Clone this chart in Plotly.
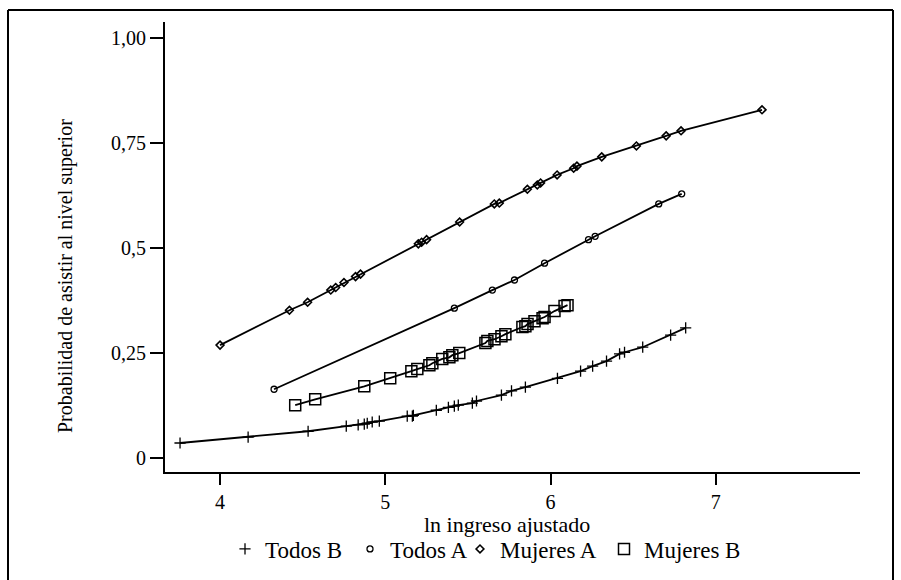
import plotly.graph_objects as go

# ---- data ----
todos_b_x = [3.758, 4.170, 4.533, 4.764, 4.836, 4.873, 4.891, 4.921, 4.964, 5.133, 5.164, 5.170,
             5.309, 5.382, 5.418, 5.442, 5.527, 5.552, 5.703, 5.764, 5.848, 6.042, 6.182, 6.255,
             6.339, 6.418, 6.448, 6.558, 6.727, 6.818]
todos_b_y = [0.036, 0.050, 0.064, 0.076, 0.079, 0.081, 0.083, 0.086, 0.088, 0.100, 0.100, 0.102,
             0.114, 0.121, 0.124, 0.126, 0.131, 0.136, 0.150, 0.160, 0.169, 0.190, 0.207, 0.219,
             0.231, 0.248, 0.252, 0.264, 0.293, 0.310]

todos_a_x = [4.327, 5.418, 5.648, 5.782, 5.964, 6.230, 6.270, 6.655, 6.794]
todos_a_y = [0.164, 0.357, 0.400, 0.424, 0.464, 0.520, 0.528, 0.605, 0.629]

mujeres_a_x = [4.000, 4.420, 4.530, 4.670, 4.700, 4.750, 4.820, 4.850, 5.200, 5.220, 5.250,
               5.450, 5.660, 5.690, 5.860, 5.920, 5.940, 6.040, 6.140, 6.160, 6.310, 6.520,
               6.700, 6.790, 7.280]
mujeres_a_y = [0.269, 0.352, 0.371, 0.400, 0.406, 0.418, 0.432, 0.438, 0.510, 0.514, 0.520,
               0.562, 0.605, 0.607, 0.640, 0.650, 0.655, 0.674, 0.690, 0.695, 0.717, 0.743,
               0.767, 0.779, 0.829]

mujeres_b_x = [4.455, 4.576, 4.873, 5.030, 5.158, 5.194, 5.267, 5.285, 5.345, 5.388, 5.406,
               5.448, 5.606, 5.618, 5.661, 5.703, 5.727, 5.830, 5.848, 5.861, 5.903, 5.952,
               5.964, 6.024, 6.085, 6.103]
mujeres_b_y = [0.126, 0.140, 0.171, 0.190, 0.207, 0.212, 0.221, 0.226, 0.236, 0.240, 0.245,
               0.250, 0.274, 0.279, 0.283, 0.290, 0.295, 0.312, 0.314, 0.319, 0.326, 0.333,
               0.336, 0.350, 0.362, 0.364]

y_tickvals = [0, 0.25, 0.5, 0.75, 1.0]
y_ticktext = ["0", "0,25", "0,5", "0,75", "1,00"]
x_tickvals = [4, 5, 6, 7]
x_ticktext = ["4", "5", "6", "7"]

FONT = "Liberation Serif"
LINE = dict(color="black", width=1.8)

series = [
    ("Todos B", todos_b_x, todos_b_y, dict(symbol="cross-thin", size=8, lw=1.3), "legend", 245),
    ("Todos A", todos_a_x, todos_a_y, dict(symbol="circle-open", size=6, lw=1.3), "legend2", 370),
    ("Mujeres A", mujeres_a_x, mujeres_a_y, dict(symbol="diamond-open", size=6, lw=1.6), "legend3", 480),
    ("Mujeres B", mujeres_b_x, mujeres_b_y, dict(symbol="square-open", size=11, lw=1.5), "legend4", 624),
]

L, R, T, B = 165, 41, 22, 108
W, H = 901, 580
pw, ph = W - L - R, H - T - B

def px(xp):
    return (xp - L) / pw

def py(yp):
    return (H - B - yp) / ph

fig = go.Figure()
legends = {}
for name, xs, ys, m, leg, sx in series:
    mk = dict(symbol=m["symbol"], size=m["size"], color="black",
              line=dict(color="black", width=m["lw"]))
    # connecting line (not in legend)
    fig.add_trace(go.Scatter(x=xs, y=ys, mode="lines", line=LINE, showlegend=False,
                             hoverinfo="skip"))
    # markers (legend entry shows only the symbol, as in the reference)
    fig.add_trace(go.Scatter(x=xs, y=ys, mode="markers", name=name, marker=mk, legend=leg))
    legends[leg] = dict(orientation="h", xref="container", yref="container",
                        x=(sx - 20) / W, y=1 - 549 / H, xanchor="left", yanchor="middle",
                        bgcolor="rgba(0,0,0,0)", itemwidth=30,
                        font=dict(family=FONT, size=23, color="black"))

fig.update_layout(
    width=W, height=H,
    margin=dict(l=L, r=R, t=T, b=B, pad=0, autoexpand=False),
    paper_bgcolor="white", plot_bgcolor="white",
    font=dict(family=FONT, size=20, color="black"),
    showlegend=True,
    xaxis=dict(range=[3.667, 7.873], tickvals=x_tickvals, ticktext=x_ticktext,
               showgrid=False, zeroline=False, showline=True, linecolor="black", linewidth=2,
               ticks="outside", ticklen=11, tickwidth=2, tickcolor="black",
               tickfont=dict(family=FONT, size=20, color="black")),
    yaxis=dict(range=[-0.033, 1.038], tickvals=y_tickvals, ticktext=y_ticktext,
               showgrid=False, zeroline=False, showline=True, linecolor="black", linewidth=2,
               ticks="outside", ticklen=13, tickwidth=2, tickcolor="black",
               tickfont=dict(family=FONT, size=20, color="black")),
    annotations=[
        dict(text="ln ingreso ajustado", xref="paper", yref="paper", x=px(507), y=py(524),
             xanchor="center", yanchor="middle", showarrow=False,
             font=dict(family=FONT, size=22, color="black")),
        dict(text="Probabilidad de asistir al nivel superior", xref="paper", yref="paper",
             x=px(65), y=py(276), xanchor="center", yanchor="middle", textangle=-90,
             showarrow=False, font=dict(family=FONT, size=20, color="black")),
    ],
    shapes=[
        dict(type="line", xref="paper", yref="paper", x0=px(8), x1=px(8), y0=py(10), y1=py(590),
             line=dict(color="black", width=2)),
        dict(type="line", xref="paper", yref="paper", x0=px(8), x1=px(893), y0=py(10), y1=py(10),
             line=dict(color="black", width=2)),
        dict(type="line", xref="paper", yref="paper", x0=px(893), x1=px(893), y0=py(10), y1=py(590),
             line=dict(color="black", width=2)),
    ],
    **legends,
)

fig.write_html("out.html")
